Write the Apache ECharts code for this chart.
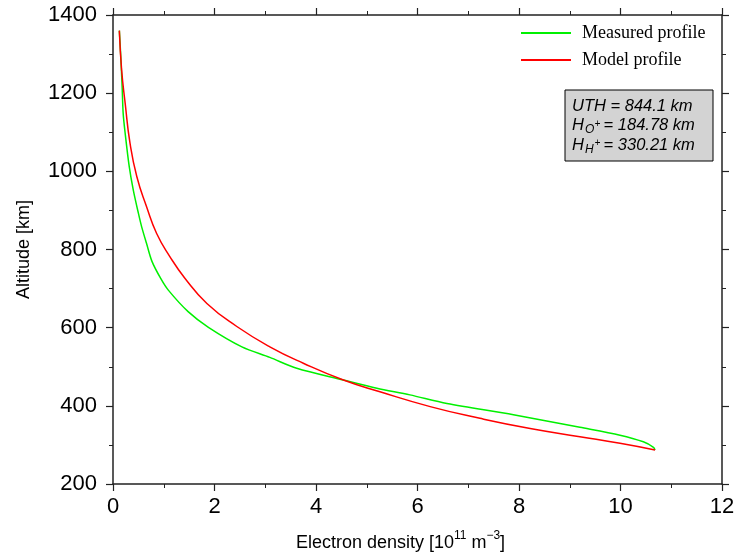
<!DOCTYPE html>
<html>
<head>
<meta charset="utf-8">
<script src="https://cdn.jsdelivr.net/npm/echarts@6/dist/echarts.min.js"></script>
<style>html,body{margin:0;padding:0;background:#fff}#c{width:739px;height:558px}</style>
</head>
<body>
<div id="c"></div>
<script>
// Measured profile: altitude [km] and electron density [1e11 m^-3]
const measuredAlt = [1360,1302,1217,1149,1097,1012,952,893,858,816,769,726,696,641,601,551,524,496,466,445,428,406,377,345,325,308,294,287];
const measuredNe  = [0.125,0.15,0.18,0.20,0.24,0.32,0.40,0.50,0.565,0.66,0.77,0.94,1.09,1.48,1.88,2.54,3.09,3.62,4.54,5.2,5.85,6.58,7.89,9.2,9.99,10.45,10.65,10.68];
// Model profile
const modelAlt = [1360,1259,1174,1072,986,910,841,782,726,662,603,551,509,466,436,398,368,342,321,304,287];
const modelNe  = [0.125,0.17,0.24,0.335,0.47,0.66,0.86,1.12,1.42,1.85,2.44,3.09,3.75,4.54,5.26,6.25,7.23,8.22,9.2,9.99,10.68];
// Axis ticks
const xTicks = {min: 0, max: 12, interval: 2};
const yTicks = {min: 200, max: 1400, interval: 200};
// Annotation
const infoLines = [
  {base: 'UTH = 844.1 km'},
  {base: 'H', sub: 'O', sup: '+', rest: ' = 184.78 km'},
  {base: 'H', sub: 'H', sup: '+', rest: ' = 330.21 km'}
];

const chart = echarts.init(document.getElementById('c'), null, {renderer: 'canvas'});
const axisColor = '#222';
const sans = 'Liberation Sans, Arial, sans-serif';
const serif = 'Liberation Serif, Times New Roman, serif';

function axisCommon(show, margin) {
  return {
    axisLine: {show: true, onZero: false, lineStyle: {color: axisColor, width: 1.5}},
    axisTick: {show: true, inside: false, length: 7, lineStyle: {color: axisColor, width: 1.2}},
    minorTick: {show: true, splitNumber: 2, length: 4, lineStyle: {color: axisColor, width: 1}},
    splitLine: {show: false},
    axisLabel: {show: show, color: '#000', fontFamily: sans, fontSize: 22, margin: margin || 8,
      formatter: v => String(v)}
  };
}

const infoGraphics = [];
const boxX = 565, boxY = 90;
infoGraphics.push({type: 'rect', shape: {x: boxX, y: boxY, width: 148, height: 71},
  style: {fill: '#d3d3d3', stroke: '#000', lineWidth: 1}});
const lineY = [106, 125.5, 145];
infoLines.forEach((l, i) => {
  const f = 'italic 16.5px ' + sans;
  infoGraphics.push({type: 'text', x: 572, y: lineY[i], style: {text: l.base, font: f, fill: '#000', verticalAlign: 'middle'}});
  if (l.sub) {
    infoGraphics.push({type: 'text', x: 585, y: lineY[i] + 4.5, style: {text: l.sub, font: 'italic 12px ' + sans, fill: '#000', verticalAlign: 'middle'}});
    infoGraphics.push({type: 'text', x: 594.5, y: lineY[i] - 1.5, style: {text: l.sup, font: 'italic 10px ' + sans, fill: '#000', verticalAlign: 'middle'}});
    infoGraphics.push({type: 'text', x: 599, y: lineY[i], style: {text: l.rest, font: f, fill: '#000', verticalAlign: 'middle'}});
  }
});

const option = {
  animation: false,
  backgroundColor: '#fff',
  grid: {left: 113, right: 17, top: 15, bottom: 74, containLabel: false},
  legend: {
    orient: 'vertical', left: 520, top: 24, padding: 0, itemWidth: 50, itemHeight: 18, itemGap: 9,
    itemStyle: {opacity: 0},
    textStyle: {fontFamily: serif, fontSize: 18, color: '#000', padding: [0, 0, 0, 6]},
    data: ['Measured profile', 'Model profile']
  },
  xAxis: [
    Object.assign({type: 'value', position: 'bottom', min: xTicks.min, max: xTicks.max, interval: xTicks.interval,
      name: '{a|Electron density [10}{s|11}{a| m}{s|−3}{a|]}', nameLocation: 'middle', nameGap: 46,
      nameTextStyle: {padding: [0, 34, 0, 0], rich: {
        a: {fontFamily: sans, fontSize: 18, color: '#000', lineHeight: 22, verticalAlign: 'bottom'},
        s: {fontFamily: sans, fontSize: 12, color: '#000', lineHeight: 22, verticalAlign: 'top'}
      }}}, axisCommon(true, 12)),
    Object.assign({type: 'value', position: 'top', min: xTicks.min, max: xTicks.max, interval: xTicks.interval}, axisCommon(false))
  ],
  yAxis: [
    Object.assign({type: 'value', position: 'left', min: yTicks.min, max: yTicks.max, interval: yTicks.interval,
      name: 'Altitude [km]', nameLocation: 'middle', nameRotate: 90, nameGap: 80,
      nameTextStyle: {fontFamily: sans, fontSize: 18, color: '#000'}}, axisCommon(true, 16)),
    Object.assign({type: 'value', position: 'right', min: yTicks.min, max: yTicks.max, interval: yTicks.interval}, axisCommon(false))
  ],
  series: [
    {name: 'Measured profile', type: 'line', xAxisIndex: 0, yAxisIndex: 0, symbol: 'none', showSymbol: false, smooth: 0.3,
      lineStyle: {color: '#00f000', width: 1.5}, itemStyle: {color: '#00f000'},
      data: measuredAlt.map((a, i) => [measuredNe[i], a])},
    {name: 'Model profile', type: 'line', xAxisIndex: 0, yAxisIndex: 0, symbol: 'none', showSymbol: false, smooth: 0.5,
      lineStyle: {color: '#ff0000', width: 1.5}, itemStyle: {color: '#ff0000'},
      data: modelAlt.map((a, i) => [modelNe[i], a])}
  ],
  graphic: infoGraphics
};
chart.setOption(option);
</script>
</body>
</html>
